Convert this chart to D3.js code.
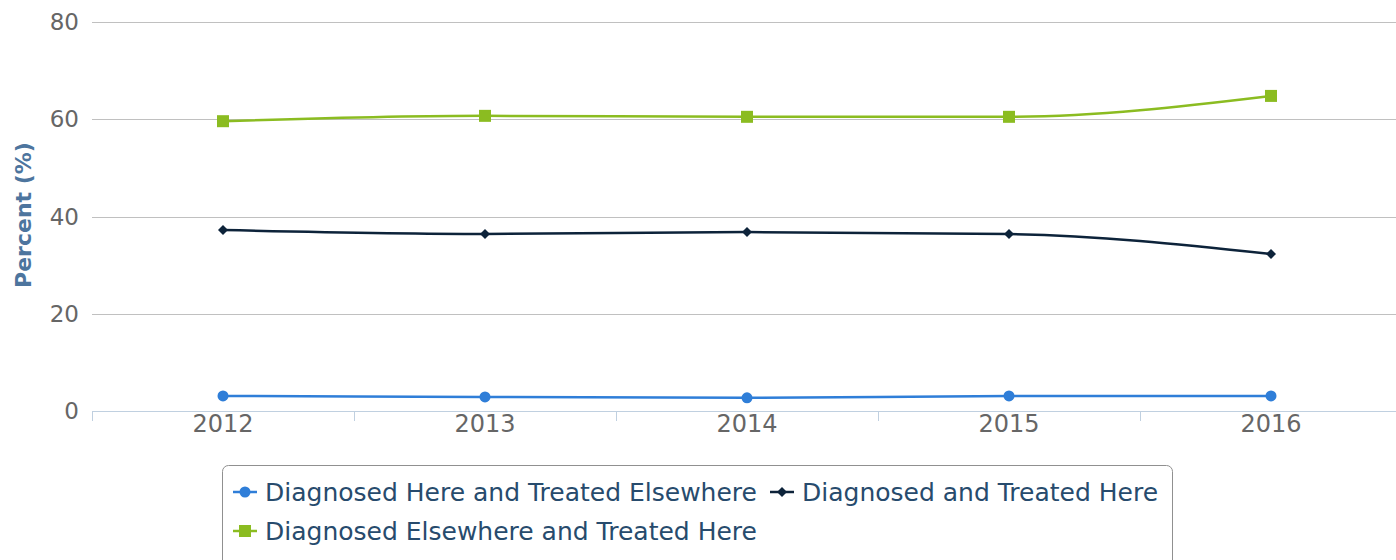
<!DOCTYPE html>
<html><head><meta charset="utf-8">
<script src="https://cdn.jsdelivr.net/npm/d3@7"></script>
<style>body{margin:0;background:#fff;}svg{display:block;font-family:"DejaVu Sans",sans-serif;}</style>
</head><body>
<svg id="c" width="1396" height="560"></svg>
<script>
const years = ["2012","2013","2014","2015","2016"];
const yTicks = [0,20,40,60,80];
const hereElsewhere = [3.1,2.9,2.7,3.1,3.1];
const diagTreatedHere = [37.2,36.4,36.8,36.4,32.3];
const elsewhereHere = [59.6,60.7,60.5,60.5,64.8];
const seriesNames = ["Diagnosed Here and Treated Elsewhere","Diagnosed and Treated Here","Diagnosed Elsewhere and Treated Here"];
const seriesColors = ["#2f7ed8","#0d233a","#8bbc21"];
const seriesSymbols = ["circle","diamond","square"];
const seriesData = [hereElsewhere, diagTreatedHere, elsewhereHere];

const svg = d3.select("#c");
const pLeft = 92, pRight = 1402, pTop = 22, pBottom = 411;
const x = d3.scaleBand().domain(years).range([pLeft,pRight]);
const y = d3.scaleLinear().domain([0,80]).range([pBottom,pTop]);

// gridlines
svg.append("g").selectAll("line").data(yTicks.filter(d=>d>0)).join("line")
  .attr("x1",pLeft).attr("x2",1396).attr("y1",d=>Math.round(y(d))+0.5).attr("y2",d=>Math.round(y(d))+0.5)
  .attr("stroke","#c0c0c0").attr("stroke-width",1);
// y labels
svg.append("g").selectAll("text").data(yTicks).join("text")
  .attr("x",79).attr("y",d=>y(d)+8).attr("text-anchor","end")
  .attr("font-size",23).attr("fill","#666").text(d=>d);
// y title
svg.append("text").attr("transform","translate(31,215) rotate(-90)").attr("text-anchor","middle")
  .attr("font-size",22).attr("font-weight","bold").attr("fill","#4d759e").text("Percent (%)");
// x axis
const xAxis = d3.axisBottom(x).tickSize(0).tickFormat(d=>d);
const xg = svg.append("g").attr("transform",`translate(0,${pBottom+0.5})`).call(xAxis);
xg.select(".domain").attr("stroke","#c0d0e0").attr("d",`M${pLeft},0H1396`);
xg.selectAll("text").attr("font-size",24).attr("fill","#666").attr("dy",0).attr("y",20).attr("font-family","DejaVu Sans");
// category boundary ticks
const bounds = years.map(d=>x(d));
svg.append("g").selectAll("line").data(bounds).join("line")
  .attr("x1",d=>Math.round(d)+0.5).attr("x2",d=>Math.round(d)+0.5).attr("y1",pBottom).attr("y2",pBottom+10)
  .attr("stroke","#c0d0e0");

const cx = d => x(d) + x.bandwidth()/2;
const line = d3.line().x((d,i)=>cx(years[i])).y(d=>y(d)).curve(d3.curveMonotoneX);

function drawMarker(g, type, color, px, py){
  if(type==="circle") g.append("circle").attr("cx",px).attr("cy",py).attr("r",5.5).attr("fill",color);
  else if(type==="diamond") g.append("path").attr("d",`M${px},${py-5}L${px+5},${py}L${px},${py+5}L${px-5},${py}Z`).attr("fill",color);
  else g.append("rect").attr("x",px-6).attr("y",py-6).attr("width",12).attr("height",12).attr("fill",color);
}

seriesData.forEach((data,si)=>{
  const g = svg.append("g");
  g.append("path").attr("d",line(data)).attr("fill","none").attr("stroke",seriesColors[si]).attr("stroke-width",2.5);
  data.forEach((v,i)=>drawMarker(g, seriesSymbols[si], seriesColors[si], cx(years[i]), y(v)));
});

// legend
svg.append("rect").attr("x",222.5).attr("y",465.5).attr("width",950).attr("height",110).attr("rx",6)
  .attr("fill","#fff").attr("stroke","#909090");
const legendPos = [[233,492],[770,492],[233,531]];
seriesNames.forEach((n,i)=>{
  const [lx,ly] = legendPos[i];
  const g = svg.append("g");
  g.append("line").attr("x1",lx).attr("x2",lx+24).attr("y1",ly).attr("y2",ly).attr("stroke",seriesColors[i]).attr("stroke-width",2.5);
  drawMarker(g, seriesSymbols[i], seriesColors[i], lx+12, ly);
  g.append("text").attr("x",lx+32).attr("y",ly+9).attr("font-size",25).attr("fill","#274b6d").text(n);
});
</script>
</body></html>
